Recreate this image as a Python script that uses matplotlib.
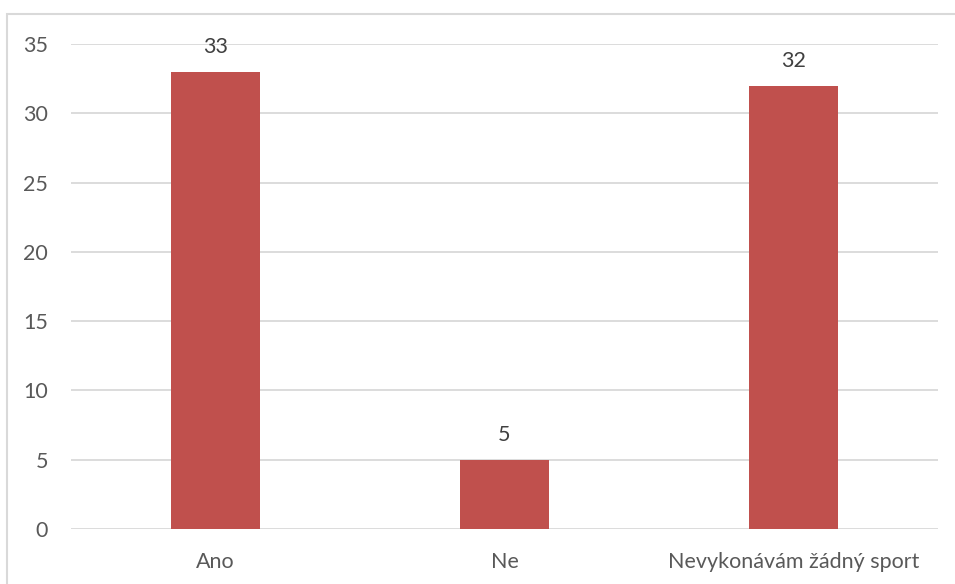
import matplotlib.pyplot as plt
from matplotlib.patches import Rectangle

categories = ["Ano", "Ne", "Nevykonávám žádný sport"]
counts = [33, 5, 32]
y_ticks = [0, 5, 10, 15, 20, 25, 30, 35]

plt.rcParams['font.family'] = ['Lato', 'DejaVu Sans']

W, H = 955, 584
fig = plt.figure(figsize=(W / 100, H / 100), dpi=100)

# chart-area frame (right and bottom edges run off the canvas)
fig.patches.append(Rectangle((7 / W, -0.1), 1.2, 1 - 14 / H + 0.1,
                             transform=fig.transFigure, fill=False,
                             edgecolor="#d9d9d9", linewidth=1.5))

ax = fig.add_axes([71 / W, 1 - 529 / H, (938 - 71) / W, (529 - 44) / H])
x = range(len(categories))
bars = ax.bar(x, counts, width=0.31, color="#C0504D", zorder=3)

for b, v in zip(bars, counts):
    ax.annotate(str(v), (b.get_x() + b.get_width() / 2, v),
                xytext=(0, 13.5), textcoords="offset points",
                ha="center", va="baseline", fontsize=15.5, color="#404040")

ax.set_xlim(-0.5, len(categories) - 0.5)
ax.set_ylim(0, 35)
ax.set_yticks(y_ticks)
ax.set_xticks(list(x))
ax.set_xticklabels(categories)
ax.grid(axis="y", color="#d9d9d9", linewidth=1.3, zorder=0)
for s in ax.spines.values():
    s.set_visible(False)
ax.tick_params(length=0, labelsize=15.5, labelcolor="#595959")
ax.tick_params(axis="y", pad=16.5)
ax.tick_params(axis="x", pad=16.5)

fig.savefig("out.png", dpi=100)
